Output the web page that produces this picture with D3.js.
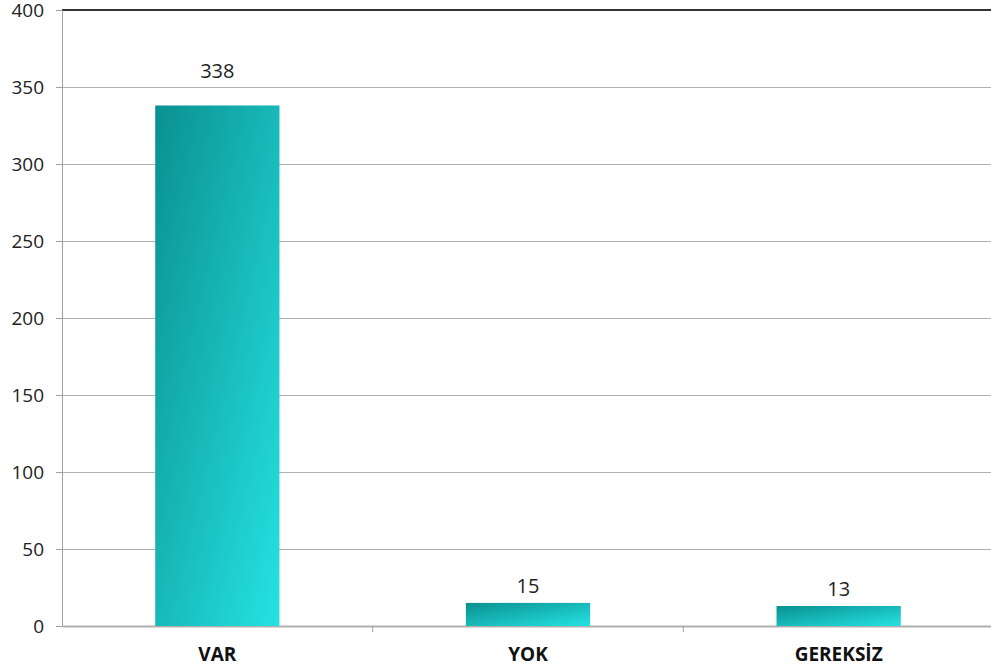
<!DOCTYPE html>
<html>
<head>
<meta charset="utf-8">
<script src="https://cdn.jsdelivr.net/npm/d3@7"></script>
<style>
  body { margin: 0; background: #fff; }
  svg { display: block; }
</style>
</head>
<body>
<svg id="chart" width="991" height="671"></svg>
<script>
const categories = ["VAR", "YOK", "GEREKSİZ"];
const values = [338, 15, 13];
const yTicks = [0, 50, 100, 150, 200, 250, 300, 350, 400];

const svg = d3.select("#chart");
const plotLeft = 62, plotRight = 994, plotTop = 10, plotBottom = 626;
const font = "'Open Sans', 'Noto Sans', sans-serif";

const x = d3.scaleBand().domain(categories).range([plotLeft, plotRight]).padding(0);
const y = d3.scaleLinear().domain([0, 400]).range([plotBottom, plotTop]);

const defs = svg.append("defs");
const grad = defs.append("linearGradient")
  .attr("id", "barGrad")
  .attr("x1", 0).attr("y1", 0).attr("x2", 1).attr("y2", 1);
grad.append("stop").attr("offset", "0%").attr("stop-color", "#0a9090");
grad.append("stop").attr("offset", "100%").attr("stop-color", "#26e2e2");

// gridlines
svg.append("g")
  .selectAll("line")
  .data(yTicks.filter(d => d > 0 && d < 400))
  .join("line")
  .attr("x1", plotLeft).attr("x2", 991)
  .attr("y1", d => y(d)).attr("y2", d => y(d))
  .attr("stroke", "#b0b0b0")
  .attr("stroke-width", 1)
  .attr("shape-rendering", "crispEdges");

// top line
svg.append("line")
  .attr("x1", plotLeft).attr("x2", 991)
  .attr("y1", y(400)).attr("y2", y(400))
  .attr("stroke", "#333")
  .attr("stroke-width", 2);

// y axis
const yAxis = svg.append("g")
  .attr("transform", `translate(${plotLeft},0)`)
  .call(d3.axisLeft(y).tickValues(yTicks).tickSize(6).tickPadding(12));
yAxis.select(".domain").attr("stroke", "#a0a0a0");
yAxis.selectAll(".tick line").attr("stroke", "#a0a0a0");
yAxis.selectAll(".tick text")
  .attr("font-family", font)
  .attr("font-size", 19)
  .attr("fill", "#222");

// x axis
const xAxis = svg.append("g")
  .attr("transform", `translate(0,${plotBottom})`)
  .call(d3.axisBottom(x).tickSize(0).tickPadding(22));
xAxis.select(".domain").attr("stroke", "#b0b0b0").attr("stroke-width", 2);
xAxis.selectAll(".tick text")
  .attr("font-family", font)
  .attr("font-size", 19)
  .attr("font-weight", "bold")
  .attr("fill", "#111");

// band separator ticks
svg.append("g")
  .selectAll("line")
  .data(categories.slice(1))
  .join("line")
  .attr("x1", d => x(d)).attr("x2", d => x(d))
  .attr("y1", plotBottom).attr("y2", plotBottom + 6)
  .attr("stroke", "#a0a0a0");

// bars
const barW = x.bandwidth() * 0.4;
svg.append("g")
  .selectAll("rect")
  .data(categories)
  .join("rect")
  .attr("x", d => x(d) + (x.bandwidth() - barW) / 2)
  .attr("width", barW)
  .attr("y", (d, i) => y(values[i]))
  .attr("height", (d, i) => y(0) - y(values[i]))
  .attr("fill", "url(#barGrad)");

// value labels: sit just above the bar, but hop above a gridline they would cross
const labelSize = 20;
function labelBaseline(v) {
  let base = y(v) - 10;
  const crossed = yTicks.find(t => y(t) < y(v) && y(t) > base - labelSize * 0.75);
  if (crossed !== undefined) base = y(crossed) - 9;
  return base;
}
svg.append("g")
  .selectAll("text")
  .data(categories)
  .join("text")
  .attr("x", d => x(d) + x.bandwidth() / 2)
  .attr("y", (d, i) => labelBaseline(values[i]))
  .attr("text-anchor", "middle")
  .attr("font-family", font)
  .attr("font-size", labelSize)
  .attr("fill", "#222")
  .text((d, i) => values[i]);
</script>
</body>
</html>
